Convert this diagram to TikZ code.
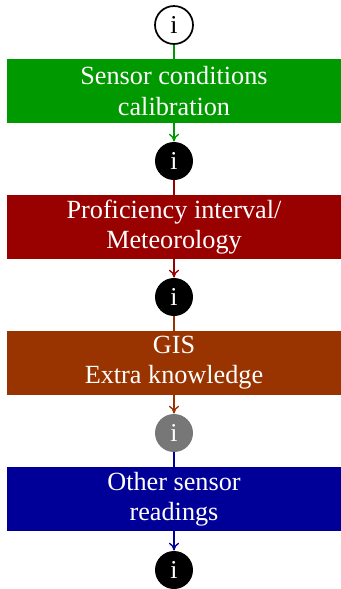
\documentclass[tikz,border=0pt]{standalone}
\usepackage{fontspec}
\setmainfont{Liberation Serif}
\usetikzlibrary{arrows.meta}
\definecolor{cgreen}{RGB}{0,153,0}
\definecolor{cred}{RGB}{153,0,0}
\definecolor{cbrown}{RGB}{153,51,0}
\definecolor{cblue}{RGB}{0,0,153}
\definecolor{cgray}{RGB}{119,119,119}
\begin{document}
\begin{tikzpicture}[x=0.408pt,y=-0.408pt,
  infocirc/.style={circle,minimum size=15.5pt,inner sep=0pt,font=\fontsize{10.5}{12}\selectfont},
  stagebox/.style={rectangle,minimum width=136.3pt,minimum height=26.1pt,inner sep=0pt,text=white,align=center,font=\fontsize{10.7}{12.3}\selectfont},
  conn/.style={line width=0.55pt},
  arr/.style={line width=0.55pt,-{To[length=3.2pt,width=4.2pt]}}]
\useasboundingbox (0,0) rectangle (341,589);
\node[infocirc,draw=black,line width=0.7pt,fill=white] (c1) at (174,25) {i};
\node[stagebox,fill=cgreen] (b1) at (174,91) {Sensor conditions\\calibration};
\node[infocirc,fill=black,text=white] (c2) at (174,161) {i};
\node[stagebox,fill=cred] (b2) at (174,227) {Proficiency interval/\\Meteorology};
\node[infocirc,fill=black,text=white] (c3) at (174,297) {i};
\node[stagebox,fill=cbrown] (b3) at (174,363) {GIS\\Extra knowledge};
\node[infocirc,fill=cgray,text=white] (c4) at (174,433) {i};
\node[stagebox,fill=cblue] (b4) at (174,499) {Other sensor\\readings};
\node[infocirc,fill=black,text=white] (c5) at (174,570) {i};
\draw[conn,cgreen] (c1) -- (b1);
\draw[arr,cgreen] (b1) -- (c2);
\draw[conn,cred] (c2) -- (b2);
\draw[arr,cred] (b2) -- (c3);
\draw[conn,cbrown] (c3) -- (b3);
\draw[arr,cbrown] (b3) -- (c4);
\draw[conn,cblue] (c4) -- (b4);
\draw[arr,cblue] (b4) -- (c5);
\end{tikzpicture}
\end{document}
